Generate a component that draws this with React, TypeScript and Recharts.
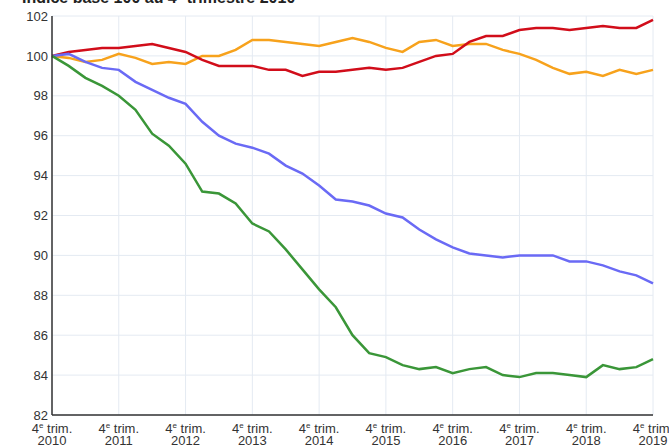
import { CartesianGrid, Line, LineChart, XAxis, YAxis } from "recharts"

// quarters, 4e trim. 2010 -> 4e trim. 2019
const quarters = [
  "2010-T4",
  "2011-T1", "2011-T2", "2011-T3", "2011-T4",
  "2012-T1", "2012-T2", "2012-T3", "2012-T4",
  "2013-T1", "2013-T2", "2013-T3", "2013-T4",
  "2014-T1", "2014-T2", "2014-T3", "2014-T4",
  "2015-T1", "2015-T2", "2015-T3", "2015-T4",
  "2016-T1", "2016-T2", "2016-T3", "2016-T4",
  "2017-T1", "2017-T2", "2017-T3", "2017-T4",
  "2018-T1", "2018-T2", "2018-T3", "2018-T4",
  "2019-T1", "2019-T2", "2019-T3", "2019-T4",
]

const red = [
  100, 100.2, 100.3, 100.4, 100.4, 100.5, 100.6, 100.4, 100.2, 99.8, 99.5, 99.5, 99.5,
  99.3, 99.3, 99.0, 99.2, 99.2, 99.3, 99.4, 99.3, 99.4, 99.7, 100.0, 100.1, 100.7, 101.0,
  101.0, 101.3, 101.4, 101.4, 101.3, 101.4, 101.5, 101.4, 101.4, 101.8,
]

const orange = [
  100, 99.9, 99.7, 99.8, 100.1, 99.9, 99.6, 99.7, 99.6, 100.0, 100.0, 100.3, 100.8, 100.8,
  100.7, 100.6, 100.5, 100.7, 100.9, 100.7, 100.4, 100.2, 100.7, 100.8, 100.5, 100.6, 100.6,
  100.3, 100.1, 99.8, 99.4, 99.1, 99.2, 99.0, 99.3, 99.1, 99.3,
]

const blue = [
  100, 100.1, 99.7, 99.4, 99.3, 98.7, 98.3, 97.9, 97.6, 96.7, 96.0, 95.6, 95.4, 95.1, 94.5,
  94.1, 93.5, 92.8, 92.7, 92.5, 92.1, 91.9, 91.3, 90.8, 90.4, 90.1, 90.0, 89.9, 90.0, 90.0,
  90.0, 89.7, 89.7, 89.5, 89.2, 89.0, 88.6,
]

const green = [
  100, 99.5, 98.9, 98.5, 98.0, 97.3, 96.1, 95.5, 94.6, 93.2, 93.1, 92.6, 91.6, 91.2, 90.3,
  89.3, 88.3, 87.4, 86.0, 85.1, 84.9, 84.5, 84.3, 84.4, 84.1, 84.3, 84.4, 84.0, 83.9, 84.1,
  84.1, 84.0, 83.9, 84.5, 84.3, 84.4, 84.8,
]

const yTicks = [82, 84, 86, 88, 90, 92, 94, 96, 98, 100, 102]

const data = quarters.map((q, i) => ({
  q,
  red: red[i],
  orange: orange[i],
  blue: blue[i],
  green: green[i],
}))

const font = '"Liberation Sans", Arial, sans-serif'

function QuarterTick(props: any) {
  const { x, payload } = props
  const year = String(payload.value).split("-")[0]
  // axis line sits at y = 415
  return (
    <g transform={`translate(${x},415)`}>
      <text x={0} y={18} textAnchor="middle" fill="#333" fontSize={13} fontFamily={font}>
        4<tspan fontSize={8} dy={-5}>e</tspan>
        <tspan dy={5}> trim.</tspan>
      </text>
      <text x={0} y={30} textAnchor="middle" fill="#333" fontSize={13} fontFamily={font}>
        {year}
      </text>
    </g>
  )
}

export default function App() {
  return (
    <div
      style={{
        position: "absolute",
        left: 0,
        top: 0,
        width: 669,
        height: 446,
        overflow: "hidden",
        background: "#fff",
      }}
    >
      <LineChart
        width={669}
        height={446}
        data={data}
        margin={{ top: 16, right: 16, left: 0, bottom: 0 }}
      >
        <CartesianGrid stroke="#e4eaf2" strokeWidth={1} />
        <XAxis
          dataKey="q"
          interval={3}
          tick={<QuarterTick />}
          tickLine={false}
          tickSize={0}
          tickMargin={0}
          axisLine={{ stroke: "#333", strokeWidth: 1.5 }}
          height={31}
        />
        <YAxis
          domain={[82, 102]}
          ticks={yTicks}
          width={52}
          tickLine={false}
          tickSize={0}
          tickMargin={4}
          axisLine={{ stroke: "#333", strokeWidth: 1.5 }}
          tick={{ fontSize: 13, fill: "#333", fontFamily: font }}
        />
        <Line type="linear" dataKey="orange" stroke="#f7a21c" strokeWidth={2.5} dot={false} isAnimationActive={false} />
        <Line type="linear" dataKey="red" stroke="#d10d1a" strokeWidth={2.5} dot={false} isAnimationActive={false} />
        <Line type="linear" dataKey="blue" stroke="#6a6af5" strokeWidth={2.5} dot={false} isAnimationActive={false} />
        <Line type="linear" dataKey="green" stroke="#3a9638" strokeWidth={2.5} dot={false} isAnimationActive={false} />
      </LineChart>
      <div
        style={{
          position: "absolute",
          zIndex: 5,
          left: 22,
          top: -10,
          lineHeight: "16px",
          fontFamily: font,
          fontSize: 16,
          fontWeight: "bold",
          color: "#222",
          whiteSpace: "nowrap",
        }}
      >
        Indice base 100 au 4<sup style={{ fontSize: 10, lineHeight: 0 }}>e</sup> trimestre 2010
      </div>
    </div>
  )
}
